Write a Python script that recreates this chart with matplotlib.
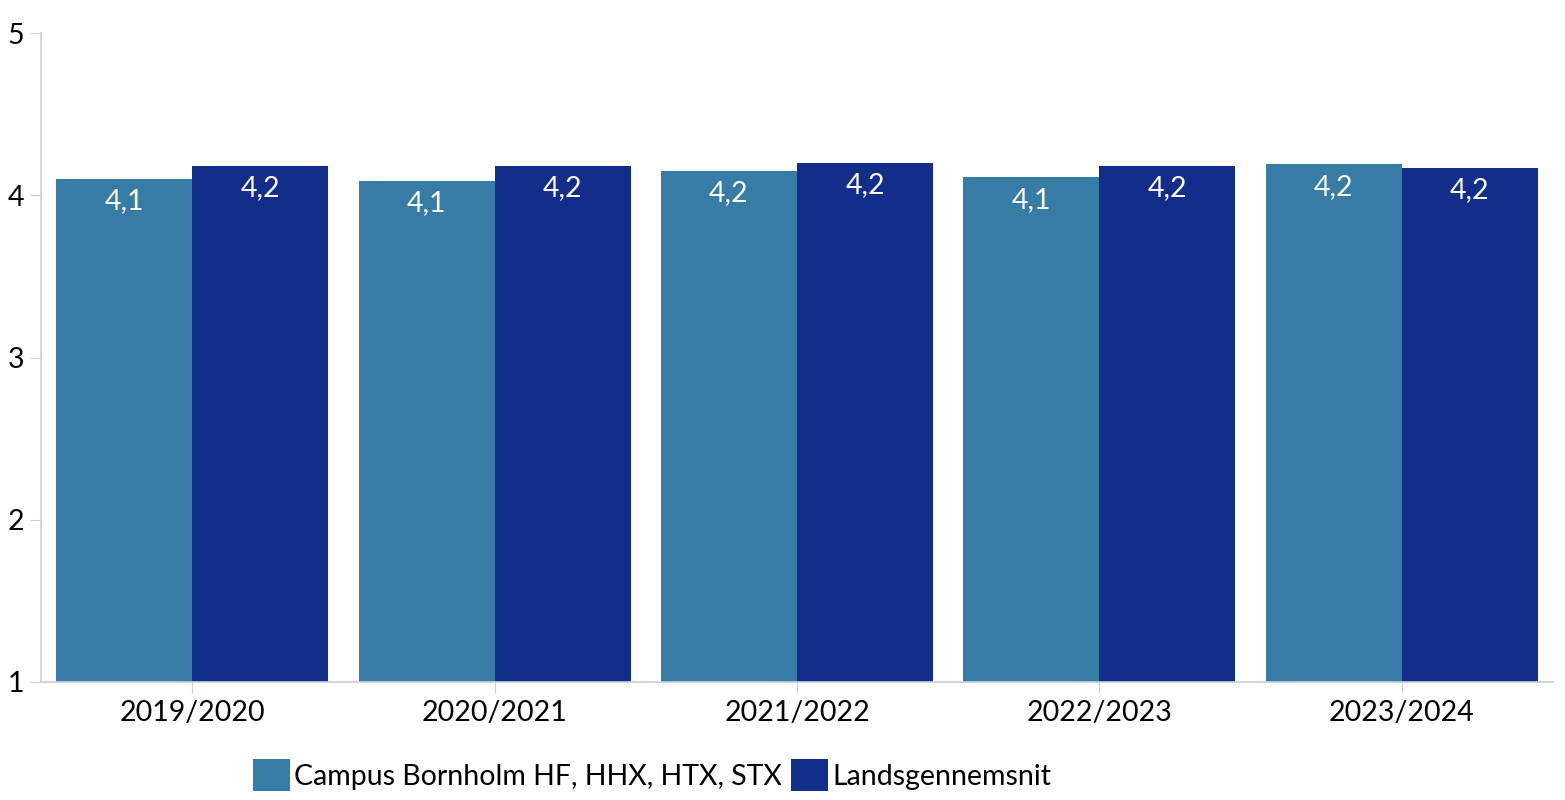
import numpy as np
import matplotlib
matplotlib.use("Agg")
import matplotlib.pyplot as plt

plt.rcParams['font.family'] = ['Lato', 'DejaVu Sans']

years = ["2019/2020", "2020/2021", "2021/2022", "2022/2023", "2023/2024"]
campus = [4.10, 4.09, 4.15, 4.11, 4.19]
lands = [4.18, 4.18, 4.20, 4.18, 4.17]
campus_labels = ["4,1", "4,1", "4,2", "4,1", "4,2"]
lands_labels = ["4,2", "4,2", "4,2", "4,2", "4,2"]
series_names = ["Campus Bornholm HF, HHX, HTX, STX", "Landsgennemsnit"]
yticks = [1, 2, 3, 4, 5]

c_campus = "#377ca5"
c_lands = "#132e8a"
axis_col = "#c8d0dc"
fs = 20.5

fig = plt.figure(figsize=(15.65, 8), dpi=100)
ax = fig.add_axes([41 / 1565, 1 - 682 / 800, (1553 - 41) / 1565, (682 - 33) / 800])

x = np.arange(len(years))
w = 0.45
b1 = ax.bar(x - w / 2, np.array(campus) - 1, w, bottom=1, color=c_campus, label=series_names[0])
b2 = ax.bar(x + w / 2, np.array(lands) - 1, w, bottom=1, color=c_lands, label=series_names[1])

# value labels inside the top of each bar
for bars, labs in ((b1, campus_labels), (b2, lands_labels)):
    for r, lab in zip(bars, labs):
        ax.annotate(lab, (r.get_x() + r.get_width() / 2, r.get_y() + r.get_height()),
                    xytext=(0, -16), textcoords="offset points",
                    ha="center", va="center", color="white", fontsize=fs)

ax.set_xlim(-0.5, len(years) - 0.5)
ax.set_ylim(1, 5)
ax.set_yticks(yticks)
ax.set_yticklabels([str(t) for t in yticks])
ax.set_xticks(x)
ax.set_xticklabels(years)

for s in ("top", "right"):
    ax.spines[s].set_visible(False)
for s in ("left", "bottom"):
    ax.spines[s].set_color(axis_col)
    ax.spines[s].set_linewidth(1.2)
ax.tick_params(axis="y", length=8, color=axis_col, labelsize=fs, pad=4)
ax.tick_params(axis="x", length=8, color=axis_col, labelsize=fs, pad=5)

leg = fig.legend(loc="center", bbox_to_anchor=(652 / 1565, 1 - 775 / 800), ncol=2,
                 frameon=False, fontsize=fs, handlelength=1.3, handleheight=1.3,
                 handletextpad=0.15, columnspacing=0.3, borderaxespad=0)

fig.savefig("out.png", dpi=100)
